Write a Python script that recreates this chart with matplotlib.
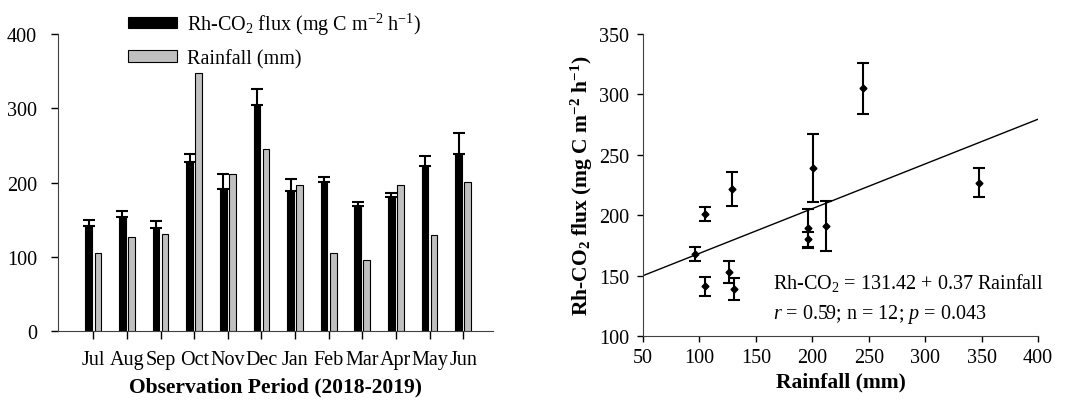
import numpy as np
import matplotlib
matplotlib.use('Agg')
import matplotlib.pyplot as plt

plt.rcParams['font.family'] = ['Liberation Serif', 'DejaVu Serif']
plt.rcParams['mathtext.fontset'] = 'custom'
plt.rcParams['mathtext.rm'] = 'Liberation Serif'
plt.rcParams['mathtext.it'] = 'Liberation Serif:italic'
plt.rcParams['mathtext.bf'] = 'Liberation Serif:bold'

# monthly data, Jul 2018 - Jun 2019
months = ['Jul', 'Aug', 'Sep', 'Oct', 'Nov', 'Dec', 'Jan', 'Feb', 'Mar', 'Apr', 'May', 'Jun']
flux = [141, 153, 139, 227, 191, 305, 189, 201, 168, 180, 222, 239]
flux_err = [8, 9, 9, 12, 21, 21, 16, 6, 6, 6, 14, 28]
rainfall = [105, 126, 131, 348, 212, 245, 196, 105, 96, 196, 129, 201]

# regression from the paper
intercept = 131.42
slope = 0.37
fit_x = [50, 400]

flux_label = r'Rh-CO$_2$ flux (mg C m$^{-2}$ h$^{-1}$)'
flux_label_bold = r'Rh-CO$_\mathbf{2}$ flux (mg C m$^\mathbf{-2}$ h$^\mathbf{-1}$)'

fs = 14.5

fig = plt.figure(figsize=(10.67, 4.02), dpi=100)

# left: bars per month
ax1 = fig.add_axes([0.0544, 0.174, 0.408, 0.739])
x = np.arange(len(months))
w = 0.2
ax1.bar(x - 0.135, flux, w, color='black', edgecolor='black', linewidth=0.8,
        label=flux_label)
ax1.errorbar(x - 0.135, flux, yerr=[np.zeros(len(flux)), flux_err], fmt='none',
             ecolor='black', elinewidth=1.5, capsize=4, capthick=1.5)
ax1.bar(x + 0.135, rainfall, w, color='#c0c0c0', edgecolor='black', linewidth=0.8,
        label='Rainfall (mm)')
ax1.set_xlim(-1.05, 11.9)
ax1.set_ylim(0, 400)
ax1.set_yticks([0, 100, 200, 300, 400])
ax1.set_xticks(x)
ax1.set_xticklabels(months)
ax1.tick_params(axis='x', direction='out', length=6, width=1, pad=8, labelsize=fs)
ax1.tick_params(axis='y', direction='out', length=5, width=1, pad=10, labelsize=fs)
for s in ['top', 'right']:
    ax1.spines[s].set_visible(False)
for s in ['left', 'bottom']:
    ax1.spines[s].set_color('#404040')
ax1.set_xlabel('Observation Period (2018-2019)', fontsize=15.5, fontweight='bold', labelpad=5)
ax1.legend(loc='upper left', bbox_to_anchor=(0.12, 1.14), frameon=False, fontsize=fs,
           handlelength=2.4, handleheight=0.5, labelspacing=0.6, handletextpad=0.5)

# right: flux vs rainfall
ax2 = fig.add_axes([0.6026, 0.1617, 0.3702, 0.7513])
ax2.errorbar(rainfall, flux, yerr=flux_err, fmt='D', color='black', markersize=3.5,
             ecolor='black', elinewidth=1.5, capsize=4, capthick=1.5)
fit_y = [intercept + slope * v for v in fit_x]
ax2.plot(fit_x, fit_y, color='black', linewidth=1)
ax2.set_xlim(50, 400)
ax2.set_ylim(100, 350)
ax2.set_xticks(range(50, 401, 50))
ax2.set_yticks(range(100, 351, 50))
ax2.tick_params(axis='x', direction='out', length=4, width=1, labelsize=fs, pad=5)
ax2.tick_params(axis='y', direction='out', length=4, width=1, labelsize=fs, pad=6)
for s in ['top', 'right']:
    ax2.spines[s].set_visible(False)
for s in ['left', 'bottom']:
    ax2.spines[s].set_color('#404040')
ax2.set_xlabel('Rainfall (mm)', fontsize=15.5, fontweight='bold', labelpad=3)
ax2.set_ylabel(flux_label_bold, fontsize=15.5, fontweight='bold', labelpad=3)
ax2.text(0.328, 0.179, r'Rh-CO$_2$ = 131.42 + 0.37 Rainfall', transform=ax2.transAxes,
         fontsize=fs, ha='left', va='center')
ax2.text(0.328, 0.073, r'$r$ = 0.59; n = 12; $p$ = 0.043', transform=ax2.transAxes,
         fontsize=fs, ha='left', va='center')

fig.savefig('out.png', dpi=100)
